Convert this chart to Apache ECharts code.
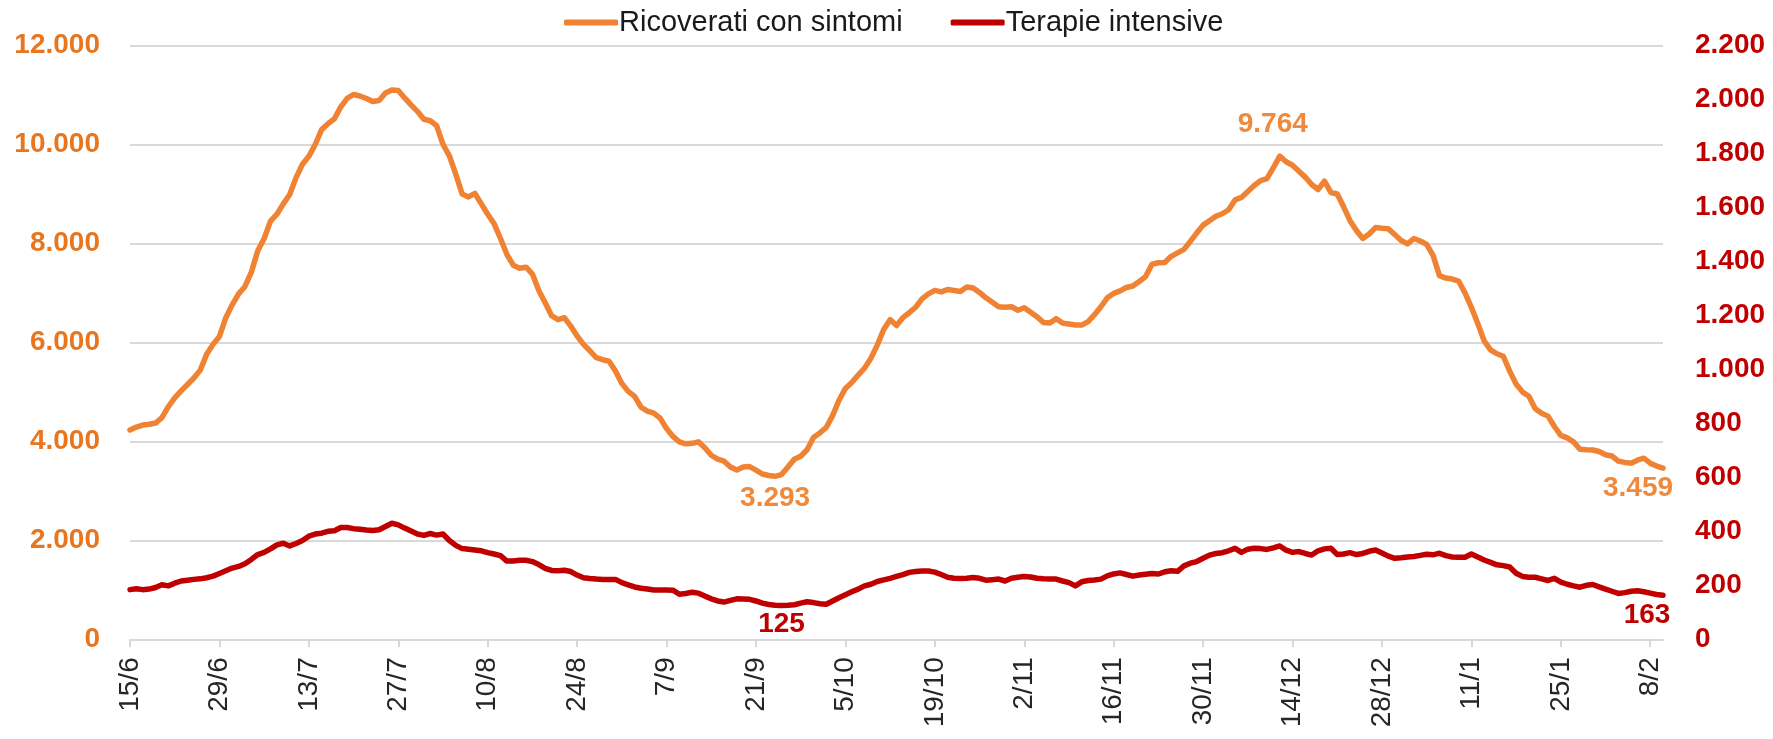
<!DOCTYPE html>
<html><head><meta charset="utf-8">
<script src="https://cdn.jsdelivr.net/npm/echarts@6/dist/echarts.min.js"></script>
<style>html,body{margin:0;padding:0;background:#fff}#c{width:1773px;height:739px}</style>
</head><body><div id="c"></div>
<script>
// Daily series, 15/6/2022 .. 10/2/2023
const START_DATE = '2022-06-15';
const DAY_COUNT = 241;
const LABEL_EVERY = 14;

const ricoverati = [
4230,4290,4330,4345,4370,4480,4700,4880,5020,5150,
5280,5440,5760,5960,6120,6500,6760,6980,7130,7420,
7850,8100,8450,8590,8800,8990,9330,9600,9760,10000,
10300,10420,10520,10760,10930,11010,10980,10930,10870,10890,
11040,11100,11090,10940,10800,10670,10510,10480,10380,10000,
9770,9400,9000,8940,9010,8800,8590,8400,8100,7780,
7560,7500,7520,7380,7050,6800,6540,6460,6500,6330,
6130,5960,5830,5690,5650,5620,5420,5170,5010,4910,
4690,4610,4570,4470,4260,4100,3990,3950,3960,3990,
3870,3720,3640,3600,3480,3420,3480,3490,3420,3340,
3310,3293,3330,3480,3640,3700,3830,4080,4170,4280,
4520,4830,5070,5190,5340,5480,5680,5950,6260,6460,
6340,6500,6600,6710,6880,6980,7050,7020,7070,7050,
7030,7120,7100,7010,6900,6810,6720,6710,6720,6650,
6700,6610,6520,6400,6390,6480,6390,6370,6350,6350,
6420,6560,6720,6900,6990,7040,7110,7140,7230,7330,
7580,7610,7615,7740,7810,7880,8040,8210,8370,8460,
8550,8600,8680,8880,8930,9050,9170,9270,9310,9530,
9764,9650,9580,9460,9340,9190,9090,9260,9030,9000,
8740,8460,8260,8100,8190,8320,8305,8295,8180,8060,
7990,8100,8050,7980,7760,7350,7300,7280,7240,7000,
6710,6380,6030,5850,5770,5720,5420,5160,5000,4910,
4660,4570,4510,4300,4120,4070,3990,3840,3830,3825,
3795,3730,3705,3600,3575,3560,3620,3660,3560,3500,
3459
];

const terapie = [
184,187,184,186,192,202,198,208,216,219,
222,224,228,234,244,254,264,270,280,296,
314,322,335,350,356,346,355,366,382,390,
393,400,402,414,414,410,408,405,403,406,
418,430,424,412,401,390,385,392,386,390,
366,348,336,334,331,328,321,316,310,290,
290,293,293,288,277,263,255,254,256,251,
238,228,225,223,222,222,222,210,202,194,
189,186,183,183,183,182,167,170,174,171,
160,150,142,138,144,150,149,148,142,134,
129,126,125,126,128,134,139,136,132,130,
142,154,165,176,186,198,204,214,220,226,
233,240,248,251,253,253,249,240,230,226,
225,226,229,226,219,221,223,216,226,230,
233,231,226,224,223,223,216,210,198,213,
218,220,223,235,242,246,240,234,238,241,
244,242,250,254,252,272,282,288,300,312,
318,321,328,337,322,334,337,336,333,339,
346,330,322,325,318,312,328,335,337,314,
316,321,314,318,326,331,320,308,300,302,
305,307,311,315,313,319,310,305,304,304,
316,305,294,285,276,273,268,245,233,230,
230,224,218,226,212,204,198,193,200,203,
194,186,178,170,173,178,180,176,171,166,
163
];

const seriesNames = ['Ricoverati con sintomi', 'Terapie intensive'];
const leftAxisRange = [0, 12000, 2000];
const rightAxisRange = [0, 2200, 200];

// indices of the points that carry a value label
const ricLabelIdx = { min: 101, peak: 180, last: 240 };
const tiLabelIdx = { min: 102, last: 240 };

// categories d/m
const categories = [];
(function () {
  const t0 = Date.parse(START_DATE + 'T00:00:00Z');
  for (let i = 0; i < DAY_COUNT; i++) {
    const d = new Date(t0 + i * 86400000);
    categories.push(d.getUTCDate() + '/' + (d.getUTCMonth() + 1));
  }
})();

const ORANGE = '#EF8333';
const ORANGE_AXIS = '#E8761E';
const ORANGE_LBL = '#EF8A3D';
const RED = '#C00000';
const FONT = "'Liberation Sans', Arial, sans-serif";

function it(v) { return String(v).replace(/\B(?=(\d{3})+(?!\d))/g, '.'); }

function withLabels(arr, specs, color) {
  return arr.map((v, i) => {
    const s = specs[i];
    if (!s) return v;
    return {
      value: v,
      label: Object.assign({
        show: true, color: color, fontSize: 28, fontWeight: 'bold', fontFamily: FONT,
        formatter: p => it(p.value)
      }, s)
    };
  });
}

const ricSpecs = {};
ricSpecs[ricLabelIdx.min] = { position: 'bottom', distance: 8 };
ricSpecs[ricLabelIdx.peak] = { position: 'top', distance: 18, offset: [-7, 0] };
ricSpecs[ricLabelIdx.last] = { position: 'bottom', distance: 6, offset: [-25, 0] };
const tiSpecs = {};
tiSpecs[tiLabelIdx.min] = { position: 'bottom', distance: 5 };
tiSpecs[tiLabelIdx.last] = { position: 'bottom', distance: 6, offset: [-16, 0] };

const everyN = i => i % LABEL_EVERY === 0;

const chart = echarts.init(document.getElementById('c'), null, { renderer: 'canvas' });
chart.setOption({
  animation: false,
  backgroundColor: '#fff',
  textStyle: { fontFamily: FONT },
  legend: {
    data: seriesNames,
    left: 559, top: 3,
    itemWidth: 54, itemHeight: 6, itemGap: 48,
    icon: 'roundRect',
    textStyle: { fontSize: 29, color: '#1a1a1a', fontFamily: FONT, padding: [0, 0, 0, -4] }
  },
  grid: { left: 130, right: 110, top: 45.5, bottom: 99.7, containLabel: false },
  xAxis: {
    type: 'category',
    data: categories,
    boundaryGap: false,
    axisLine: { lineStyle: { color: '#d9d9d9', width: 2 } },
    axisTick: { show: true, interval: everyN, length: 8, lineStyle: { color: '#d9d9d9', width: 2 } },
    axisLabel: { interval: everyN, rotate: 90, margin: 18, fontSize: 28, color: '#262626', fontFamily: FONT }
  },
  yAxis: [
    {
      type: 'value', min: leftAxisRange[0], max: leftAxisRange[1], interval: leftAxisRange[2],
      axisLine: { show: false }, axisTick: { show: false },
      splitLine: { lineStyle: { color: '#d9d9d9', width: 2 } },
      axisLabel: { margin: 30, fontSize: 28, fontWeight: 'bold', color: ORANGE_AXIS, fontFamily: FONT, formatter: it }
    },
    {
      type: 'value', min: rightAxisRange[0], max: rightAxisRange[1], interval: rightAxisRange[2],
      position: 'right',
      axisLine: { show: false }, axisTick: { show: false }, splitLine: { show: false },
      axisLabel: { margin: 32, fontSize: 28, fontWeight: 'bold', color: RED, fontFamily: FONT, formatter: it }
    }
  ],
  series: [
    {
      name: seriesNames[0], type: 'line', yAxisIndex: 0,
      showSymbol: true, showAllSymbol: true, symbol: 'circle', symbolSize: 0,
      data: withLabels(ricoverati, ricSpecs, ORANGE_LBL),
      lineStyle: { color: ORANGE, width: 5.5, join: 'round', cap: 'round' },
      itemStyle: { color: ORANGE },
      emphasis: { disabled: true }
    },
    {
      name: seriesNames[1], type: 'line', yAxisIndex: 1,
      showSymbol: true, showAllSymbol: true, symbol: 'circle', symbolSize: 0,
      data: withLabels(terapie, tiSpecs, RED),
      lineStyle: { color: RED, width: 5.5, join: 'round', cap: 'round' },
      itemStyle: { color: RED },
      emphasis: { disabled: true }
    }
  ]
});
</script></body></html>
